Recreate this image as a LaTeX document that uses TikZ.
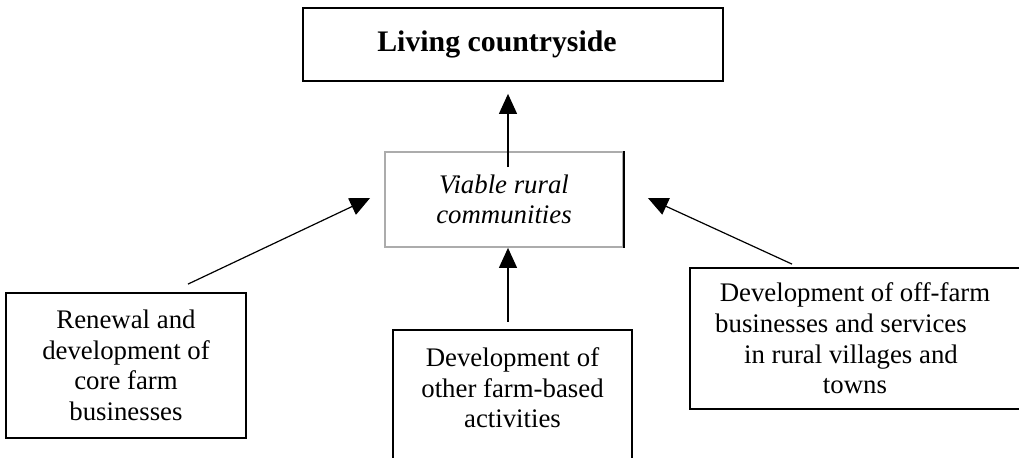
\documentclass[tikz,border=0pt]{standalone}
\usepackage{fontspec}
\setmainfont{Liberation Serif}
\usetikzlibrary{arrows.meta}
\tikzset{
  framebox/.style={draw, line width=0.9pt, align=center, inner sep=0pt, font=\fontsize{13.4}{15.3}\selectfont},
  arr/.style={line width=0.6pt, -{Triangle[length=10pt,width=9pt]}}
}
\begin{document}
\begin{tikzpicture}[x=0.5pt,y=0.5pt,yscale=-1,xscale=1]
\useasboundingbox (0,0) rectangle (1019,458);
\clip (0,0) rectangle (1019,458);

%Shape: Rectangle [Living countryside]
\node (lc) [framebox, minimum width=210pt, minimum height=36.5pt, font=\fontsize{14.9}{17}\selectfont\bfseries] at (513,44.5) {Living countryside\hspace*{16pt}};
%Shape: Rectangle [Viable rural communities]
\node (vrc) [framebox, draw=gray!65, minimum width=119pt, minimum height=47.5pt, font=\fontsize{13.4}{15.3}\selectfont\itshape] at (504,199.5) {Viable rural\\communities};
\draw [line width=0.9pt] (vrc.north east) -- (vrc.south east);
%Shape: Rectangle [core farm]
\node (ren) [framebox, minimum width=120pt, minimum height=72.5pt] at (126,365.5) {Renewal and\\development of\\core farm\\businesses};
%Shape: Rectangle [other farm-based]
\node (obf) [framebox, anchor=north, minimum width=119.5pt, inner ysep=9pt, text depth=30pt] at (512.5,329) {Development of\\other farm-based\\activities};
%Shape: Rectangle [off-farm]
\node (off) [framebox, minimum width=165pt, minimum height=70.5pt] at (855,338.5) {Development of off-farm\\businesses and services\hspace*{14pt}\mbox{}\\in rural villages and\hspace*{4pt}\mbox{}\\towns};

%Straight Lines
\draw [arr] ([xshift=2pt,yshift=8pt]vrc.north) -- ([xshift=-2.5pt,yshift=6pt]lc.south);
\draw [arr] ([xshift=31pt,yshift=-4pt]ren.north) -- ([xshift=-7pt,yshift=-0.75pt]vrc.west);
\draw [arr] ([xshift=-2.25pt,yshift=-3.5pt]obf.north) -- ([xshift=2pt]vrc.south);
\draw [arr] ([xshift=-31.5pt,yshift=-1.5pt]off.north) -- ([xshift=12pt,yshift=-0.75pt]vrc.east);

\end{tikzpicture}
\end{document}
